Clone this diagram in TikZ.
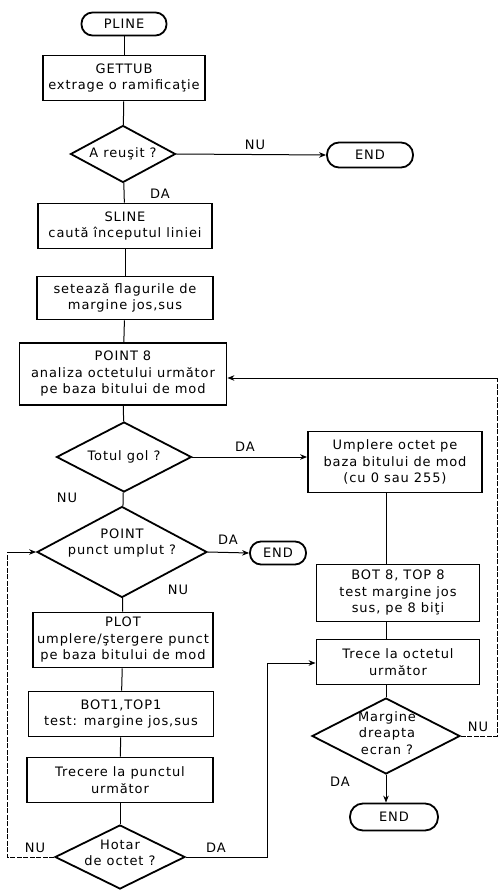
\documentclass[tikz,border=0pt]{standalone}
\usepackage{fontspec}
\setmainfont{DejaVu Sans}[LetterSpace=7]
\usetikzlibrary{shapes.geometric,arrows.meta}
\begin{document}
\begin{tikzpicture}[x=1pt,y=-1pt,
  font=\fontsize{13}{16.5}\selectfont,
  box/.style={draw, line width=1.8pt, align=center, inner sep=1pt},
  term/.style={draw, line width=1.8pt, align=center, inner sep=1pt},
  dia/.style={draw, diamond, line width=1.8pt, inner sep=0pt},
  txt/.style={align=center, inner sep=0pt},
  lbl/.style={inner sep=0pt},
  flow/.style={line width=1pt},
  arr/.style={flow, -{Stealth[length=7pt,width=5.5pt]}},
  loopline/.style={line width=0.8pt, dash pattern=on 5pt off 1.5pt}]
\fill[white] (0,0) rectangle (500,890);
\useasboundingbox (0,0) rectangle (500,890);
% left column
\node[term, rounded corners=11pt, minimum width=85pt, minimum height=23pt] (pline) at (124,24) {PLINE};
\node[box, minimum width=162pt, minimum height=45pt] (gettub) at (124,78) {GETTUB\\extrage o ramificaţie};
\node[dia, minimum width=105pt, minimum height=57pt] (reusit) at (123,154) {};
\node[txt] (reusit-t) at (123,154) {A reuşit ?};
\node[term, rounded corners=12pt, minimum width=86pt, minimum height=25pt] (end1) at (370,155) {END};
\node[lbl] (nu1) at (255,145) {NU};
\node[lbl] (da1) at (160,194) {DA};
\node[box, minimum width=174pt, minimum height=45pt] (sline) at (125,226) {SLINE\\caută începutul liniei};
\node[box, minimum width=176pt, minimum height=43pt] (set) at (125,298) {setează flagurile de\\margine jos,sus};
\node[box, minimum width=207pt, minimum height=62pt] (point8) at (123,374) {POINT 8\\analiza octetului următor\\pe baza bitului de mod};
\node[dia, minimum width=135pt, minimum height=70pt] (totul) at (124,457) {};
\node[txt] (totul-t) at (124,457) {Totul gol ?};
\node[lbl] (da2) at (245,447) {DA};
\node[lbl] (nu2) at (67,498) {NU};
\node[dia, minimum width=170pt, minimum height=91pt] (pointd) at (122,552) {};
\node[txt] (pointd-t) at (122,543) {POINT\\punct umplut ?};
\node[lbl] (da3) at (228,540) {DA};
\node[term, rounded corners=11pt, minimum width=56pt, minimum height=23pt] (end2) at (278,553) {END};
\node[lbl] (nu3) at (178,590) {NU};
\node[box, minimum width=180pt, minimum height=55pt] (plot) at (123,640) {PLOT\\umplere/ştergere punct\\pe baza bitului de mod};
\node[box, minimum width=185pt, minimum height=45pt] (bot1) at (121,714) {BOT1,TOP1\\test: margine jos,sus};
\node[box, minimum width=186pt, minimum height=45pt] (trecere) at (120,780) {Trecere la punctul\\următor};
\node[dia, minimum width=130pt, minimum height=64pt] (hotar) at (120,857) {};
\node[txt] (hotar-t) at (120,853) {Hotar\\de octet ?};
\node[lbl] (nu4) at (35,848) {NU};
\node[lbl] (da4) at (216,848) {DA};
% right column
\node[box, minimum width=174pt, minimum height=61pt] (umpl) at (395,462) {Umplere octet pe\\baza bitului de mod\\(cu 0 sau 255)};
\node[box, minimum width=163pt, minimum height=57pt] (bot8) at (398,593) {BOT 8, TOP 8\\test margine jos\\sus, pe 8 biţi};
\node[box, minimum width=163pt, minimum height=45pt] (trece) at (398,662) {Trece la octetul\\următor};
\node[dia, minimum width=148pt, minimum height=76pt] (marg) at (386,736) {};
\node[txt] (marg-t) at (387,733) {Margine\\dreapta\\ecran ?};
\node[lbl] (nu5) at (478,727) {NU};
\node[lbl] (da5) at (340,782) {DA};
\node[term, rounded corners=13pt, minimum width=88pt, minimum height=27pt] (end3) at (394,817) {END};
% loop corner coordinates
\coordinate (lb) at (7,857);
\coordinate (lt) at (7,552);
\coordinate (db) at (267,857);
\coordinate (dt) at (267,663);
\coordinate (rb) at (497,736);
\coordinate (rt) at (497,378);
% connectors
\draw[flow] (pline) -- (gettub);
\draw[flow] (gettub) -- (reusit);
\draw[arr] (reusit.east) -- (end1.west);
\draw[flow] (reusit) -- (sline);
\draw[flow] (sline) -- (set);
\draw[flow] (set) -- (point8);
\draw[flow] (point8) -- (totul);
\draw[arr] (totul.east) -- (totul.east -| umpl.west);
\draw[flow] (totul) -- (pointd);
\draw[arr] (pointd.east) -- (end2.west);
\draw[flow] (pointd) -- (plot);
\draw[flow] (plot) -- (bot1);
\draw[flow] (bot1) -- (trecere);
\draw[flow] (trecere) -- (hotar);
\draw[loopline] (hotar.west) -- (lb) -- (lt);
\draw[arr] (lt) -- (pointd.west);
\draw[flow] (hotar.east) -- (db) -- (dt);
\draw[arr] (dt) -- (dt -| trece.west);
\draw[flow] (umpl.south -| marg.north) -- (bot8.north -| marg.north);
\draw[flow] (bot8.south -| marg.north) -- (trece.north -| marg.north);
\draw[flow] (trece.south -| marg.north) -- (marg.north);
\draw[arr] (marg.south) -- (end3.north -| marg.south);
\draw[loopline] (marg.east) -- (rb) -- (rt);
\draw[arr] (rt) -- (rt -| point8.east);
\end{tikzpicture}
\end{document}
